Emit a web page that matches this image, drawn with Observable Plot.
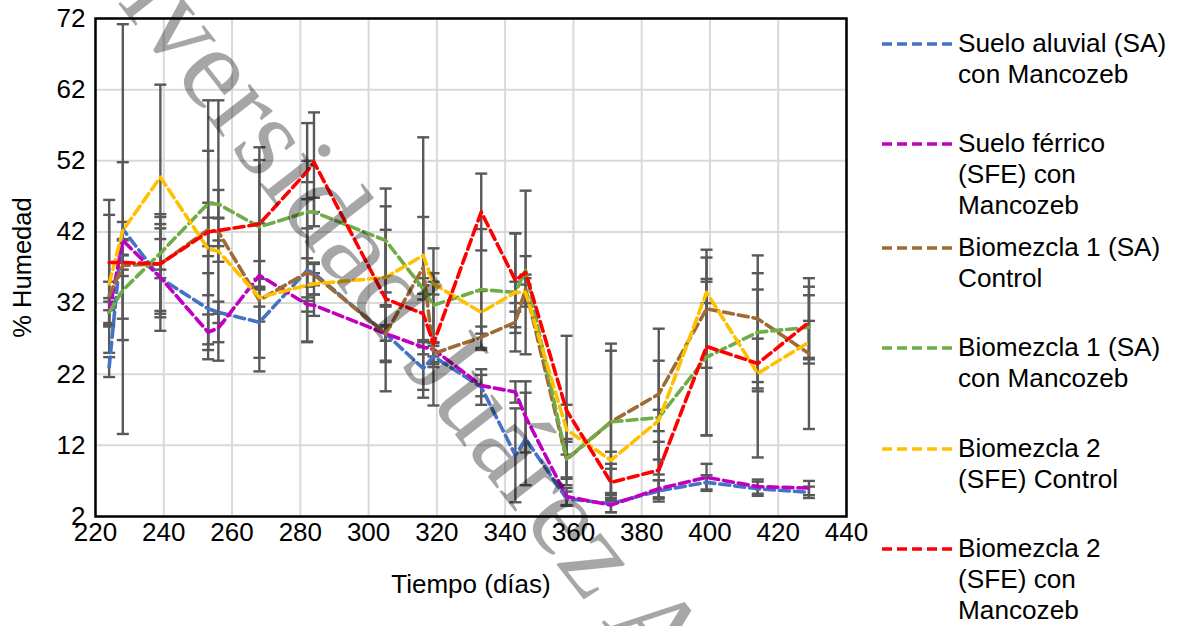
<!DOCTYPE html>
<html><head><meta charset="utf-8">
<script src="https://cdn.jsdelivr.net/npm/d3@7"></script>
<script src="https://cdn.jsdelivr.net/npm/@observablehq/plot@0.6"></script>
<style>
body{margin:0;background:#fff;width:1177px;height:626px;overflow:hidden;position:relative;font-family:"Liberation Sans",Arial,sans-serif;}
#chart{position:absolute;left:0;top:0;}
.entry{position:absolute;left:882px;}
.entry svg{position:absolute;left:0;top:14px;}
.entry .txt{position:absolute;left:76px;top:0;font-size:26.2px;line-height:31px;white-space:nowrap;color:#000;}
#wm{position:absolute;left:0;top:0;pointer-events:none;}
</style></head>
<body>
<div id="chart"></div>
<div id="legend"></div>
<script>
const days = [224, 228, 239, 253, 256, 268, 282, 284, 305, 316, 319, 333, 343, 346, 358, 371, 385, 399, 414, 429];
const xTicks = [220, 240, 260, 280, 300, 320, 340, 360, 380, 400, 420, 440];
const yTicks = [2, 12, 22, 32, 42, 52, 62, 72];

const names = ["Suelo aluvial (SA) con Mancozeb", "Suelo férrico (SFE) con Mancozeb", "Biomezcla 1 (SA) Control", "Biomezcla 1 (SA) con Mancozeb", "Biomezcla 2 (SFE) Control", "Biomezcla 2 (SFE) con Mancozeb"];
const legendLines = [["Suelo aluvial (SA)", "con Mancozeb"], ["Suelo férrico", "(SFE) con", "Mancozeb"], ["Biomezcla 1 (SA)", "Control"], ["Biomezcla 1 (SA)", "con Mancozeb"], ["Biomezcla 2", "(SFE) Control"], ["Biomezcla 2", "(SFE) con", "Mancozeb"]];
const colors = ["#4472C4", "#C000C0", "#9E6A35", "#70AD47", "#FFC000", "#FF0000"];

const saMancozeb   = [23.0, 42.4, 35.5, 31.2, 30.7, 29.3, 36.6, 36.2, 27.7, 22.8, 24.5, 20.2, 10.6, 12.9, 4.5, 3.8, 5.6, 6.8, 5.9, 5.4];
const sfeMancozeb  = [30.7, 40.8, 35.6, 27.9, 28.5, 35.9, 31.8, 31.7, 27.7, 25.8, 25.5, 20.4, 19.5, 16.0, 4.8, 3.6, 5.9, 7.5, 6.2, 6.0];
const bio1Control  = [33.0, 37.3, 37.5, 42.3, 42.0, 32.4, 36.3, 36.0, 27.7, 37.0, 24.9, 27.2, 29.3, 34.0, 10.0, 15.3, 19.2, 31.2, 29.8, 24.9];
const bio1Mancozeb = [30.7, 33.8, 39.0, 46.0, 45.9, 42.7, 44.8, 44.8, 40.8, 34.0, 31.7, 33.9, 33.5, 36.6, 10.1, 15.3, 15.9, 24.4, 27.9, 28.6];
const bio2Control  = [34.7, 42.2, 49.7, 39.6, 39.3, 32.8, 34.5, 34.7, 35.6, 38.7, 34.7, 30.7, 33.5, 33.5, 14.2, 9.9, 15.5, 33.5, 22.1, 26.5];
const bio2Mancozeb = [37.7, 37.7, 37.5, 42.0, 42.2, 43.1, 50.5, 51.8, 32.6, 30.5, 26.3, 44.8, 35.2, 36.3, 16.9, 6.8, 8.5, 25.9, 23.5, 29.3];

const saErr   = [1.4, 28.8, 5.5, 5.0, 1.5, 5.0, 10.0, 1.5, 3.8, 3.0, 1.5, 2.5, 6.6, 6.5, 1.0, 1.2, 1.5, 1.0, 1.0, 0.8];
const sfeErr  = [1.5, 11.0, 7.5, 2.5, 2.0, 2.0, 1.0, 1.5, 1.0, 1.0, 1.0, 1.5, 1.5, 5.0, 1.2, 1.0, 1.2, 1.9, 1.0, 1.0];
const b1cErr  = [2.0, 1.5, 6.6, 18.2, 2.0, 3.0, 2.0, 1.5, 4.0, 18.3, 1.5, 1.5, 1.5, 2.0, 2.5, 10.0, 9.2, 8.3, 8.9, 10.6];
const b1mErr  = [2.0, 7.0, 3.5, 7.4, 2.0, 11.2, 12.5, 2.0, 7.3, 1.5, 8.0, 8.5, 8.3, 2.0, 2.8, 11.0, 8.0, 11.0, 8.3, 4.5];
const b2cErr  = [9.7, 1.2, 13.0, 6.5, 1.5, 10.4, 8.0, 1.5, 6.7, 5.4, 1.5, 3.0, 1.5, 2.0, 3.5, 1.2, 1.5, 1.5, 11.8, 3.0];
const b2mErr  = [8.8, 1.0, 7.0, 2.0, 18.3, 9.0, 1.5, 7.0, 13.0, 4.0, 8.7, 5.4, 6.6, 11.5, 10.5, 2.6, 4.0, 12.5, 3.5, 5.0];

const seriesValues = [saMancozeb, sfeMancozeb, bio1Control, bio1Mancozeb, bio2Control, bio2Mancozeb];
const seriesErr = [saErr, sfeErr, b1cErr, b1mErr, b2cErr, b2mErr];

const rows = [];
names.forEach((name, i) => days.forEach((d, j) => {
  const v = seriesValues[i][j], e = seriesErr[i][j];
  rows.push({series: name, day: d, v, lo: v - e, hi: v + e});
}));

const cap = {draw(ctx) { ctx.moveTo(-6, 0); ctx.lineTo(6, 0); }};
const ebar = "#595959";

const chart = Plot.plot({
  width: 870, height: 626,
  marginLeft: 95, marginRight: 24, marginTop: 18, marginBottom: 110,
  style: {fontFamily: "Liberation Sans, Arial, sans-serif", fontSize: "26px", color: "#000", background: "transparent", overflow: "visible"},
  x: {domain: [220, 440]},
  y: {domain: [2, 72]},
  color: {domain: names, range: colors},
  marks: [
    Plot.gridX(xTicks, {stroke: "#d9d9d9", strokeOpacity: 1, strokeWidth: 2}),
    Plot.gridY(yTicks, {stroke: "#d9d9d9", strokeOpacity: 1, strokeWidth: 2}),
    Plot.axisX(xTicks, {tickSize: 0, tickPadding: 6, label: null, fontSize: 26}),
    Plot.axisY(yTicks, {tickSize: 0, tickPadding: 10, label: null, fontSize: 26}),
    Plot.ruleX(rows, {x: "day", y1: "lo", y2: "hi", stroke: ebar, strokeWidth: 2.4}),
    Plot.dot(rows, {x: "day", y: "lo", symbol: cap, stroke: ebar, strokeWidth: 2.4, fill: "none"}),
    Plot.dot(rows, {x: "day", y: "hi", symbol: cap, stroke: ebar, strokeWidth: 2.4, fill: "none"}),
    Plot.line(rows, {x: "day", y: "v", z: "series", stroke: "series", strokeWidth: 3.6, strokeDasharray: "10,5"}),
    Plot.frame({stroke: "#000", strokeWidth: 2.5}),
    Plot.text(["Tiempo (días)"], {text: d => d, frameAnchor: "bottom", textAnchor: "middle", dy: 76, fontSize: 26}),
    Plot.text(["% Humedad"], {text: d => d, frameAnchor: "left", textAnchor: "middle", dx: -73, rotate: -90, fontSize: 25.5})
  ]
});
document.getElementById("chart").appendChild(chart);

const centers = [43, 143, 247, 347, 448, 548];
const legend = document.getElementById("legend");
legendLines.forEach((lines, i) => {
  const div = document.createElement("div");
  div.className = "entry";
  div.style.top = (centers[i] - 15.5) + "px";
  div.innerHTML = `<svg width="72" height="4"><line x1="0" y1="2" x2="70" y2="2" stroke="${colors[i]}" stroke-width="3.6" stroke-dasharray="10,5"/></svg><div class="txt">${lines.join("<br>")}</div>`;
  legend.appendChild(div);
});

const wm = document.createElementNS("http://www.w3.org/2000/svg", "svg");
wm.setAttribute("id", "wm");
wm.setAttribute("width", 1177);
wm.setAttribute("height", 626);
wm.innerHTML = `<text transform="translate(28,-112) rotate(52)" font-family="Liberation Serif, Times New Roman, serif" font-size="118" fill="#000" fill-opacity="0.35">Universidad Juárez Autónoma de Tabasco</text>`;
document.body.appendChild(wm);
</script>
</body></html>
